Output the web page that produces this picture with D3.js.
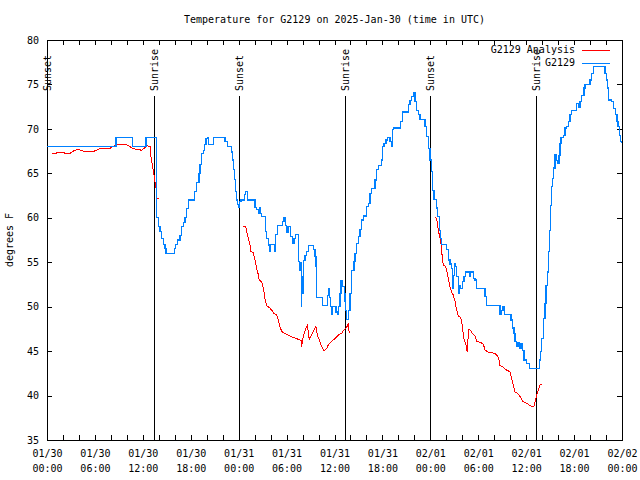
<!DOCTYPE html>
<html>
<head>
<meta charset="utf-8">
<script src="https://cdn.jsdelivr.net/npm/d3@7"></script>
<style>
  html, body { margin: 0; padding: 0; background: #fff; }
  svg { display: block; }
  text { font-family: "DejaVu Sans Mono", "Liberation Mono", monospace; font-size: 10px; fill: #000; }
</style>
</head>
<body>
<svg id="chart" width="640" height="480"></svg>
<script>
// ---- DATA (time = hours since 2025-01-30 00:00 UTC) ----
const titleText = "Temperature for G2129 on 2025-Jan-30 (time in UTC)";
const yLabel = "degrees F";
const yTicks = [35, 40, 45, 50, 55, 60, 65, 70, 75, 80];
const seriesNames = ["G2129 Analysis", "G2129"];

// Observations (G2129), step series
const obsHours = [0.0,8.64,10.68,12.40,13.71,13.96,14.15,14.36,14.56,14.78,14.90,15.94,16.09,16.34,16.65,16.87,17.07,17.28,17.49,17.69,18.44,18.75,19.03,19.16,19.37,19.57,19.70,19.91,20.07,20.22,20.82,22.29,22.58,23.13,23.25,23.38,23.50,23.63,23.75,23.88,23.98,24.10,24.29,24.71,24.88,25.08,26.05,26.26,26.46,26.58,26.71,26.88,27.39,27.51,27.71,27.84,27.92,28.46,28.59,28.89,29.46,29.68,29.89,30.01,30.18,30.52,30.72,30.93,31.14,31.47,31.59,31.77,31.83,31.89,32.02,32.09,32.31,32.52,32.72,33.35,33.56,33.68,33.77,34.52,35.15,35.28,35.40,35.52,35.65,35.77,36.19,36.35,36.50,36.69,36.81,36.98,37.23,37.31,37.40,37.53,37.73,37.94,38.15,38.44,38.57,38.78,38.98,39.19,39.41,39.61,40.03,40.23,40.45,40.66,41.07,41.28,41.48,41.91,42.04,42.20,42.45,42.61,42.95,43.16,43.29,43.36,44.29,44.54,45.24,45.45,45.67,45.87,46.08,46.29,46.49,46.71,47.33,47.55,47.75,47.96,48.17,48.25,48.46,48.80,48.92,49.12,49.30,49.42,50.05,50.25,50.46,50.68,50.75,50.88,51.00,51.15,51.30,51.50,51.63,51.78,52.00,52.21,52.43,52.97,53.05,53.39,53.60,53.81,54.85,55.06,56.72,56.91,57.10,57.26,58.10,58.26,58.47,58.60,58.81,58.97,59.14,59.35,59.51,59.72,60.07,60.39,61.70,61.82,61.95,62.15,62.36,62.49,62.65,62.78,62.90,63.07,63.20,63.33,63.40,63.61,63.74,63.90,64.11,64.24,64.36,64.65,64.86,65.08,65.28,65.49,65.70,66.33,66.53,66.74,66.95,67.24,67.36,67.99,68.20,68.40,69.86,70.08,70.20,70.35,70.69,70.92,71.21,71.38,71.51,71.72,71.81,71.89];
const obsTemps = [68,69,68,69,60,59,58.5,57.7,57,56.5,56,56.5,57,57.5,58,59,59.5,60,61,62,63,64,65,66,67.2,67.6,68.2,68.9,69,68.2,69,68.6,68,67.4,66.5,65.4,64.3,63,62,61.5,61.2,61.8,62,62.6,63,62,61.2,60.9,60.5,61.1,60.5,60.1,58.5,57.7,56.9,56.2,57,56.2,58.1,59.1,59.6,60,59.1,58.3,59,57.9,57.1,57.7,58.1,55.1,54.1,55,50,53.4,51.5,55.2,55.8,56.2,56.9,56.4,55.6,54.5,51,50.1,51.3,52,51,50,49.1,50,49.4,49.1,50,51.5,52.9,52.3,51.5,50.6,49.6,48.6,49.6,51.5,54.1,55.1,56,57.1,57.9,58.7,59.75,60.2,61.25,61.6,62.75,63.3,64.25,65.4,65.9,66.5,68,68.4,68.75,69.05,68.6,68,69.9,70.1,70.8,71.9,72.7,73.2,73.6,74.1,73.1,72.1,71.6,71.1,70.25,69.1,67.8,66.5,65.2,63.1,62.1,61.1,60.1,58.6,57.7,57.0,56.4,55.25,54.8,54.3,52.1,53.5,54.9,54.5,53.4,51.5,52.4,52,52.8,53.4,53.9,53.4,53.9,53.2,53,52,51.1,50.1,49.1,49.6,50,49.1,48.5,47.6,47,46.1,45.5,46,45.3,45.9,45.1,44,43.6,43,44,45,46.4,48.7,50.4,52.4,53.9,56.2,58.6,61.4,63.5,64.4,65.6,67.1,66.4,66.1,67,68.4,69,69.3,70.1,70.25,70.8,71.6,72.1,72.9,72.4,73.1,73.8,74.6,75,75.5,76.25,77,76.25,75.5,74.6,73.25,73.1,72.3,71.6,70.8,70.25,69.3,68.6,68.4];

// Analysis (G2129 Analysis); null = gap
const anaHours = [0.66,1.21,1.29,2.04,2.25,2.88,3.09,3.51,3.92,4.26,4.55,5.92,6.22,6.64,7.89,8.39,8.73,9.77,10.39,10.68,11.23,11.86,12.15,12.40,12.61,12.94,13.02,13.19,13.36,13.49,13.61,13.67,13.74,13.99,
  14.2,24.58,24.88,25.01,25.21,25.42,25.54,25.83,26.05,26.26,26.46,26.58,26.88,27.09,27.30,27.51,27.84,28.14,28.42,28.76,28.96,29.18,29.39,29.80,30.21,30.64,31.27,31.68,31.87,31.91,31.97,32.22,32.43,32.59,32.72,32.84,33.14,33.43,33.68,33.85,34.10,34.40,34.69,35.02,35.22,35.65,36.28,36.60,36.90,37.19,37.44,37.60,37.73,37.85,
  40.0,48.59,48.80,49.00,49.21,49.34,49.42,49.62,49.84,50.05,50.25,50.46,50.68,50.88,51.09,51.30,51.50,51.80,52.00,52.13,52.26,52.41,52.56,52.66,52.76,52.97,53.18,53.60,53.81,54.22,54.63,54.85,55.26,55.69,56.10,56.44,56.60,56.72,57.01,57.35,57.68,57.97,58.19,58.39,58.60,58.94,59.23,59.52,59.85,60.19,60.61,60.89,61.02,61.23,61.39,61.61,61.73,61.95];
const anaTemps = [67.25,67.25,67.4,67.4,67.25,67.25,67.4,67.6,67.7,67.6,67.5,67.5,67.6,67.8,67.8,68.1,68.3,68.3,68,67.8,67.7,67.6,67.8,68,68.1,68,66.9,65.9,65,64.25,63.3,null,62.2,62.2,
  null,59,59,58.4,57.7,56.9,56.2,56.1,55.25,54.3,53.6,53,52.8,52.1,50.9,50.1,49.9,49.6,49.25,49.1,48.5,47.75,47.2,47,46.8,46.6,46.4,46.25,46.2,45.5,46.2,47,47.6,47.9,47.2,46.3,46.8,47.4,47.75,46.8,46.25,45.5,45.05,45.3,45.7,46.1,46.6,46.9,47,47.4,47.6,47.8,48.1,47,
  null,60.1,59.9,58.6,57.7,57.1,56.2,54.7,54.6,54.1,53.2,52.25,51.6,51.3,50.6,49.6,48.95,48.8,47.9,46.8,46.1,46,45.1,45,47.4,47.4,47.1,46.7,46.1,46.0,45.8,45.1,44.9,44.8,44.75,44.4,44.0,43.4,43.25,43,42.8,42.7,41.9,41.2,40.4,40.25,39.9,39.4,39.2,39.05,38.8,38.75,38.9,39.7,40.25,40.9,41.2,41.2];

// Sun events
const sunHours = [0.0, 13.34, 23.98, 37.36, 47.94, 61.23];
const sunLabels = ["Sunset", "Sunrise", "Sunset", "Sunrise", "Sunset", "Sunrise"];

const colors = ["#ff0000", "#0080ff"];

// ---- CHART ----
const base = Date.UTC(2025, 0, 30);
const toDate = h => new Date(base + h * 3600000);
const svg = d3.select("#chart");
const L = 47, R = 622, T = 40, B = 440;

const x = d3.scaleUtc().domain([toDate(0), toDate(72)]).range([L, R]);
const y = d3.scaleLinear().domain([35, 80]).range([B, T]);

// title
svg.append("text").attr("x", (L + R) / 2).attr("y", 20).attr("text-anchor", "middle")
  .attr("dominant-baseline", "middle").text(titleText);
// y label
svg.append("text").attr("transform", "translate(10,240) rotate(-90)").attr("text-anchor", "middle")
  .attr("dominant-baseline", "middle").text(yLabel);

const xTickVals = d3.utcHour.every(2).range(toDate(0), toDate(72.01));
const fmtDate = d3.utcFormat("%m/%d"), fmtTime = d3.utcFormat("%H:%M");

// bottom axis
const gx = svg.append("g").attr("transform", `translate(0,${B})`)
  .call(d3.axisBottom(x).tickValues(xTickVals).tickSize(-5).tickSizeOuter(0).tickFormat(() => ""));
gx.selectAll(".tick").each(function(d) {
  if (d.getUTCHours() % 6 !== 0) return;
  const t = d3.select(this).select("text").attr("y", 0).attr("dy", null);
  t.append("tspan").attr("x", 0).attr("y", 13.5).attr("dominant-baseline", "middle").text(fmtDate(d));
  t.append("tspan").attr("x", 0).attr("y", 29).attr("dominant-baseline", "middle").text(fmtTime(d));
});
// top axis (ticks only)
svg.append("g").attr("transform", `translate(0,${T})`)
  .call(d3.axisTop(x).tickValues(xTickVals).tickSize(-5).tickSizeOuter(0).tickFormat(() => ""));
// left axis
svg.append("g").attr("transform", `translate(${L},0)`)
  .call(d3.axisLeft(y).tickValues(yTicks).tickSize(-5).tickSizeOuter(0).tickPadding(8).tickFormat(d3.format("d")));
// right axis
svg.append("g").attr("transform", `translate(${R},0)`)
  .call(d3.axisRight(y).tickValues(yTicks).tickSize(-5).tickSizeOuter(0).tickFormat(() => ""));

svg.selectAll("g text").style("font-family", '"DejaVu Sans Mono", monospace').style("font-size", "10px");
svg.selectAll(".domain").remove();
svg.selectAll(".tick line").attr("stroke", "#000").attr("shape-rendering", "crispEdges");

// frame
svg.append("rect").attr("x", L + 0.5).attr("y", T + 0.5).attr("width", R - L).attr("height", B - T)
  .attr("fill", "none").attr("stroke", "#000").attr("shape-rendering", "crispEdges");

// sun lines & labels
sunHours.forEach((h, i) => {
  const xx = Math.round(x(toDate(h))) + 0.5;
  svg.append("line").attr("x1", xx).attr("x2", xx).attr("y1", 96).attr("y2", B)
    .attr("stroke", "#000").attr("stroke-width", 1).attr("shape-rendering", "crispEdges");
  svg.append("text").attr("transform", `translate(${xx},91) rotate(-90)`).attr("text-anchor", "start")
    .attr("dominant-baseline", "middle").text(sunLabels[i]);
});

// legend
const legY = [50, 63];
seriesNames.forEach((n, i) => {
  svg.append("text").attr("x", 575).attr("y", legY[i]).attr("text-anchor", "end")
    .attr("dominant-baseline", "middle").text(n);
  svg.append("line").attr("x1", 582).attr("x2", 610).attr("y1", legY[i] + 0.5).attr("y2", legY[i] + 0.5)
    .attr("stroke", colors[i]).attr("stroke-width", 1).attr("shape-rendering", "crispEdges");
});

// series
const obs = obsHours.map((h, i) => ({ t: toDate(h), v: obsTemps[i] }));
const ana = anaHours.map((h, i) => ({ t: toDate(h), v: anaTemps[i] }));

const clip = svg.append("clipPath").attr("id", "clip").append("rect")
  .attr("x", L).attr("y", T).attr("width", R - L).attr("height", B - T);

const lineStep = d3.line().x(d => x(d.t)).y(d => y(d.v)).curve(d3.curveStepAfter);
const lineLin = d3.line().defined(d => d.v !== null).x(d => x(d.t)).y(d => y(d.v));

svg.append("path").datum(ana).attr("d", lineLin).attr("fill", "none").attr("stroke", colors[0])
  .attr("stroke-width", 1).attr("clip-path", "url(#clip)").attr("shape-rendering", "crispEdges");
svg.append("path").datum(obs).attr("d", lineStep).attr("fill", "none").attr("stroke", colors[1])
  .attr("stroke-width", 1.2).attr("clip-path", "url(#clip)").attr("shape-rendering", "crispEdges");
</script>
</body>
</html>
